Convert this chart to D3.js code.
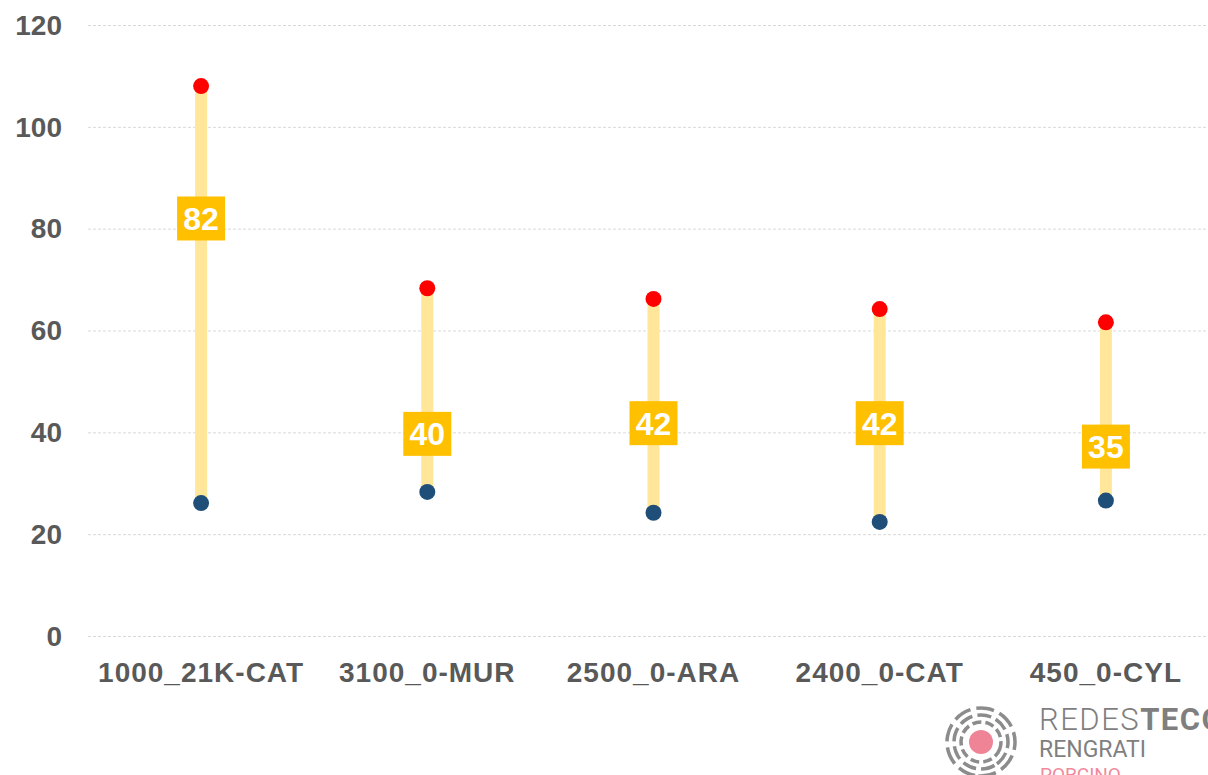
<!DOCTYPE html>
<html>
<head>
<meta charset="utf-8">
<script src="https://cdn.jsdelivr.net/npm/d3@7"></script>
<style>
  body { margin: 0; background: #fff; overflow: hidden; }
  svg { display: block; font-family: Arial, "Liberation Sans", sans-serif; }
</style>
</head>
<body>
<svg id="chart" width="1208" height="775"></svg>
<script>
// categories and values
const categories = ["1000_21K-CAT", "3100_0-MUR", "2500_0-ARA", "2400_0-CAT", "450_0-CYL"];
const maxValues = [108, 68.3, 66.2, 64.2, 61.6];
const minValues = [26.1, 28.3, 24.2, 22.4, 26.6];
const diffLabels = [82, 40, 42, 42, 35];
const labelPos = [82, 39.7, 41.8, 41.8, 37.2];
const yTicks = [0, 20, 40, 60, 80, 100, 120];

const svg = d3.select("#chart");
const W = 1208, H = 775;
const plotLeft = 88, plotRight = 1219, plotTop = 25, plotBottom = 636;

const x = d3.scaleBand().domain(categories).range([plotLeft, plotRight]);
const y = d3.scaleLinear().domain([0, 120]).range([plotBottom, plotTop]);

// gridlines
svg.append("g")
  .selectAll("line")
  .data(yTicks)
  .join("line")
  .attr("x1", plotLeft)
  .attr("x2", W)
  .attr("y1", d => y(d) + 0.5)
  .attr("y2", d => y(d) + 0.5)
  .attr("stroke", "#d9d9d9")
  .attr("stroke-width", 1)
  .attr("stroke-dasharray", "3,2");

// y axis labels
svg.append("g")
  .selectAll("text")
  .data(yTicks)
  .join("text")
  .attr("x", 62)
  .attr("y", d => y(d))
  .attr("dy", "0.35em")
  .attr("text-anchor", "end")
  .attr("font-size", 28)
  .attr("font-weight", "bold")
  .attr("fill", "#595959")
  .text(d => d);

// x axis labels
svg.append("g")
  .selectAll("text")
  .data(categories)
  .join("text")
  .attr("x", d => x(d) + x.bandwidth() / 2)
  .attr("y", 682)
  .attr("text-anchor", "middle")
  .attr("font-size", 28)
  .attr("font-weight", "bold")
  .attr("letter-spacing", 1)
  .attr("fill", "#595959")
  .text(d => d);

const rows = categories.map((c, i) => ({
  cat: c, max: maxValues[i], min: minValues[i], diff: diffLabels[i], pos: labelPos[i]
}));
const cx = d => x(d.cat) + x.bandwidth() / 2;

// range bars
svg.append("g")
  .selectAll("line")
  .data(rows)
  .join("line")
  .attr("x1", cx).attr("x2", cx)
  .attr("y1", d => y(d.max))
  .attr("y2", d => y(d.min))
  .attr("stroke", "#FFE699")
  .attr("stroke-width", 12);

// max / min dots
svg.append("g")
  .selectAll("circle")
  .data(rows)
  .join("circle")
  .attr("cx", cx)
  .attr("cy", d => y(d.max))
  .attr("r", 8)
  .attr("fill", "#FF0000");

svg.append("g")
  .selectAll("circle")
  .data(rows)
  .join("circle")
  .attr("cx", cx)
  .attr("cy", d => y(d.min))
  .attr("r", 8)
  .attr("fill", "#1F4E79");

// difference labels
const lab = svg.append("g")
  .selectAll("g")
  .data(rows)
  .join("g")
  .attr("transform", d => `translate(${cx(d)},${y(d.pos)})`);
lab.append("rect")
  .attr("x", -24).attr("y", -22)
  .attr("width", 48).attr("height", 44)
  .attr("fill", "#FFC000");
lab.append("text")
  .attr("text-anchor", "middle")
  .attr("dy", "0.36em")
  .attr("font-size", 32)
  .attr("font-weight", "bold")
  .attr("fill", "#fff")
  .text(d => d.diff);

// logo
const logo = svg.append("g").attr("transform", "translate(981,742)");
logo.append("circle").attr("r", 12).attr("fill", "#EF8497");
[[20, "9,4"], [27, "14,5"], [34, "18,6"]].forEach(([r, dash], i) => {
  logo.append("circle")
    .attr("r", r)
    .attr("fill", "none")
    .attr("stroke", "#8c8c8c")
    .attr("stroke-width", 3.5)
    .attr("stroke-dasharray", dash)
    .attr("transform", `rotate(${i * 40 + 20})`);
});
const lt = svg.append("g").attr("font-family", "Roboto, Arial, sans-serif");
lt.append("text")
  .attr("x", 1039).attr("y", 730)
  .attr("font-size", 31)
  .attr("letter-spacing", 1.5)
  .attr("fill", "#7f7f7f")
  .html('<tspan font-weight="300">REDES</tspan><tspan font-weight="bold">TECO</tspan>');
lt.append("text")
  .attr("x", 1039).attr("y", 757)
  .attr("font-size", 23)
  .attr("fill", "#7f7f7f")
  .text("RENGRATI");
lt.append("text")
  .attr("x", 1040).attr("y", 781)
  .attr("font-size", 19)
  .attr("fill", "#F08A9C")
  .text("PORCINO");
</script>
</body>
</html>
